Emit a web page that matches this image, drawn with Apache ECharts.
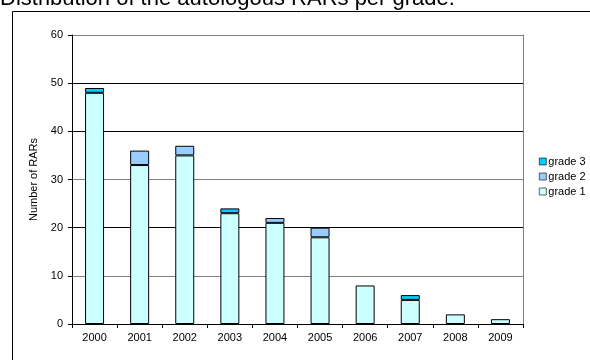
<!DOCTYPE html>
<html>
<head>
<meta charset="utf-8">
<script src="https://cdn.jsdelivr.net/npm/echarts@6/dist/echarts.min.js"></script>
<style>
  html, body { margin: 0; padding: 0; background: #fff; }
  #chart { width: 590px; height: 360px; }
</style>
</head>
<body>
<div id="chart"></div>
<script>
// Autologous RARs per year, split by grade
const years = ['2000', '2001', '2002', '2003', '2004', '2005', '2006', '2007', '2008', '2009'];
const grade1 = [48, 33, 35, 23, 21, 18, 8, 5, 2, 1];
const grade2 = [0, 3, 2, 0, 1, 2, 0, 0, 0, 0];
const grade3 = [1, 0, 0, 1, 0, 0, 0, 1, 0, 0];
const gradeNames = ['grade 1', 'grade 2', 'grade 3'];
const gradeColors = ['#ccffff', '#99ccff', '#00ccff'];

const FONT = 'Liberation Sans, Arial, sans-serif';
const chart = echarts.init(document.getElementById('chart'), null, { renderer: 'canvas' });

// empty segments are left out so they draw no outline
const segs = [grade1, grade2, grade3].map(arr => arr.map(v => (v === 0 ? null : v)));

const series = segs.map((data, i) => ({
  name: gradeNames[i],
  type: 'bar',
  stack: 'total',
  barWidth: 19,
  data: data,
  itemStyle: { color: gradeColors[i], borderColor: '#000', borderWidth: 1 },
  emphasis: { disabled: true }
}));

chart.setOption({
  animation: false,
  graphic: [
    {
      type: 'rect',
      shape: { x: 12.5, y: 11.5, width: 600, height: 400 },
      style: { fill: null, stroke: '#000', lineWidth: 1 },
      silent: true
    },
    {
      type: 'text',
      left: 0,
      top: -12,
      style: {
        text: 'Distribution of the autologous RARs per grade.',
        font: '22px ' + FONT,
        fill: '#000'
      },
      silent: true
    }
  ],
  legend: {
    orient: 'vertical',
    left: 534,
    top: 151,
    itemWidth: 7,
    itemHeight: 7,
    itemGap: 4,
    icon: 'rect',
    data: ['grade 3', 'grade 2', 'grade 1'],
    itemStyle: { borderWidth: 0.6, borderColor: '#000' },
    textStyle: { fontFamily: FONT, fontSize: 11, color: '#000', padding: [0, 0, 0, -3] },
    selectedMode: false
  },
  grid: { left: 72, right: 67, top: 35, bottom: 36, containLabel: false },
  xAxis: {
    type: 'category',
    data: years,
    axisLine: { lineStyle: { color: '#000', width: 1 } },
    axisTick: { show: true, alignWithLabel: false, length: 4, inside: false, lineStyle: { color: '#000' } },
    axisLabel: { fontFamily: FONT, fontSize: 11, color: '#000', margin: 8 }
  },
  yAxis: [
    {
      type: 'value',
      min: 0,
      max: 60,
      interval: 10,
      name: 'Number of RARs',
      nameLocation: 'middle',
      nameRotate: 90,
      nameGap: 25,
      nameTextStyle: { fontFamily: FONT, fontSize: 11, color: '#000' },
      axisLine: { show: true, lineStyle: { color: '#000', width: 1 } },
      axisTick: { show: true, length: 4, lineStyle: { color: '#000' } },
      axisLabel: { fontFamily: FONT, fontSize: 11, color: '#000', margin: 9 },
      splitLine: {
        show: true,
        lineStyle: { color: ['#000', '#808080', '#000', '#808080', '#000', '#000', '#808080'], width: 1 }
      }
    },
    {
      type: 'value',
      min: 0,
      max: 60,
      interval: 10,
      position: 'right',
      axisLine: { show: true, lineStyle: { color: '#808080', width: 1 } },
      axisTick: { show: false },
      axisLabel: { show: false },
      splitLine: { show: false }
    }
  ],
  series: series
});
</script>
</body>
</html>
